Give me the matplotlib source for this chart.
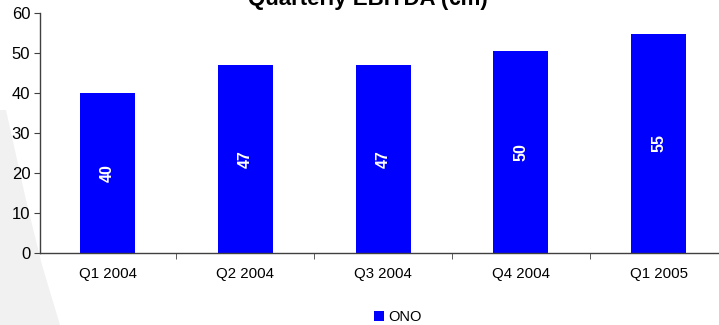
import matplotlib

matplotlib.use("Agg")
import matplotlib.pyplot as plt
from matplotlib.patches import Polygon

# Quarterly EBITDA, EUR millions
QUARTERS = ["Q1 2004", "Q2 2004", "Q3 2004", "Q4 2004", "Q1 2005"]
EBITDA = [40.0, 46.9, 46.9, 50.4, 54.7]
SERIES = "ONO"
TITLE = "Quarterly EBITDA (€m)"
BLUE = "#0000ff"

plt.rcParams["font.family"] = ["Liberation Sans", "DejaVu Sans"]

W, H = 719, 325
fig = plt.figure(figsize=(W / 100, H / 100), dpi=100)

# faint grey swoosh in the lower-left corner, kept behind the axes
swoosh = Polygon([(0, 215 / H), (6 / W, 215 / H), (26 / W, 125 / H), (42 / W, 60 / H),
                  (60 / W, 0), (0, 0)], closed=True, transform=fig.transFigure,
                 facecolor="#f1f1f1", edgecolor="none", zorder=-5)
fig.patches.append(swoosh)

ax = fig.add_axes([40 / W, 72 / H, 689 / W, 240.3 / H])
ax.set_zorder(2)
ax.patch.set_alpha(0)

x = range(len(QUARTERS))
bars = ax.bar(x, EBITDA, width=0.4, color=BLUE, label=SERIES, zorder=2)
for b, v in zip(bars, EBITDA):
    ax.text(b.get_x() + b.get_width() / 2, v / 2, f"{v:.0f}", rotation=90,
            ha="center", va="center", color="white", fontsize=11.5, fontweight="bold")

ax.set_xlim(-0.49, len(QUARTERS) - 0.49)
ax.set_ylim(0, 60)
ax.set_yticks(range(0, 61, 10))
ax.set_xticks(list(x))
ax.set_xticklabels(QUARTERS)
ax.set_xticks([i + 0.5 for i in range(len(QUARTERS) - 1)], minor=True)
ax.tick_params(axis="x", which="major", length=0, pad=10, labelsize=10.8)
ax.tick_params(axis="x", which="minor", length=4, direction="out", color="#404040")
ax.tick_params(axis="y", length=4, direction="out", color="#404040", labelsize=12, pad=3)
for s in ("top", "right"):
    ax.spines[s].set_visible(False)
for s in ("left", "bottom"):
    ax.spines[s].set_color("#404040")
    ax.spines[s].set_linewidth(1)

fig.text(368 / W, 1 - 4.7 / H, TITLE, ha="center", va="baseline",
         fontsize=16, fontweight="bold")

fig.legend(handles=[bars], labels=[SERIES], loc="center", bbox_to_anchor=(398 / W, 1 - 317 / H),
           frameon=False, fontsize=10.5, handlelength=0.7, handleheight=0.7,
           handletextpad=0.3, borderpad=0)

fig.savefig("out.png", dpi=100)
